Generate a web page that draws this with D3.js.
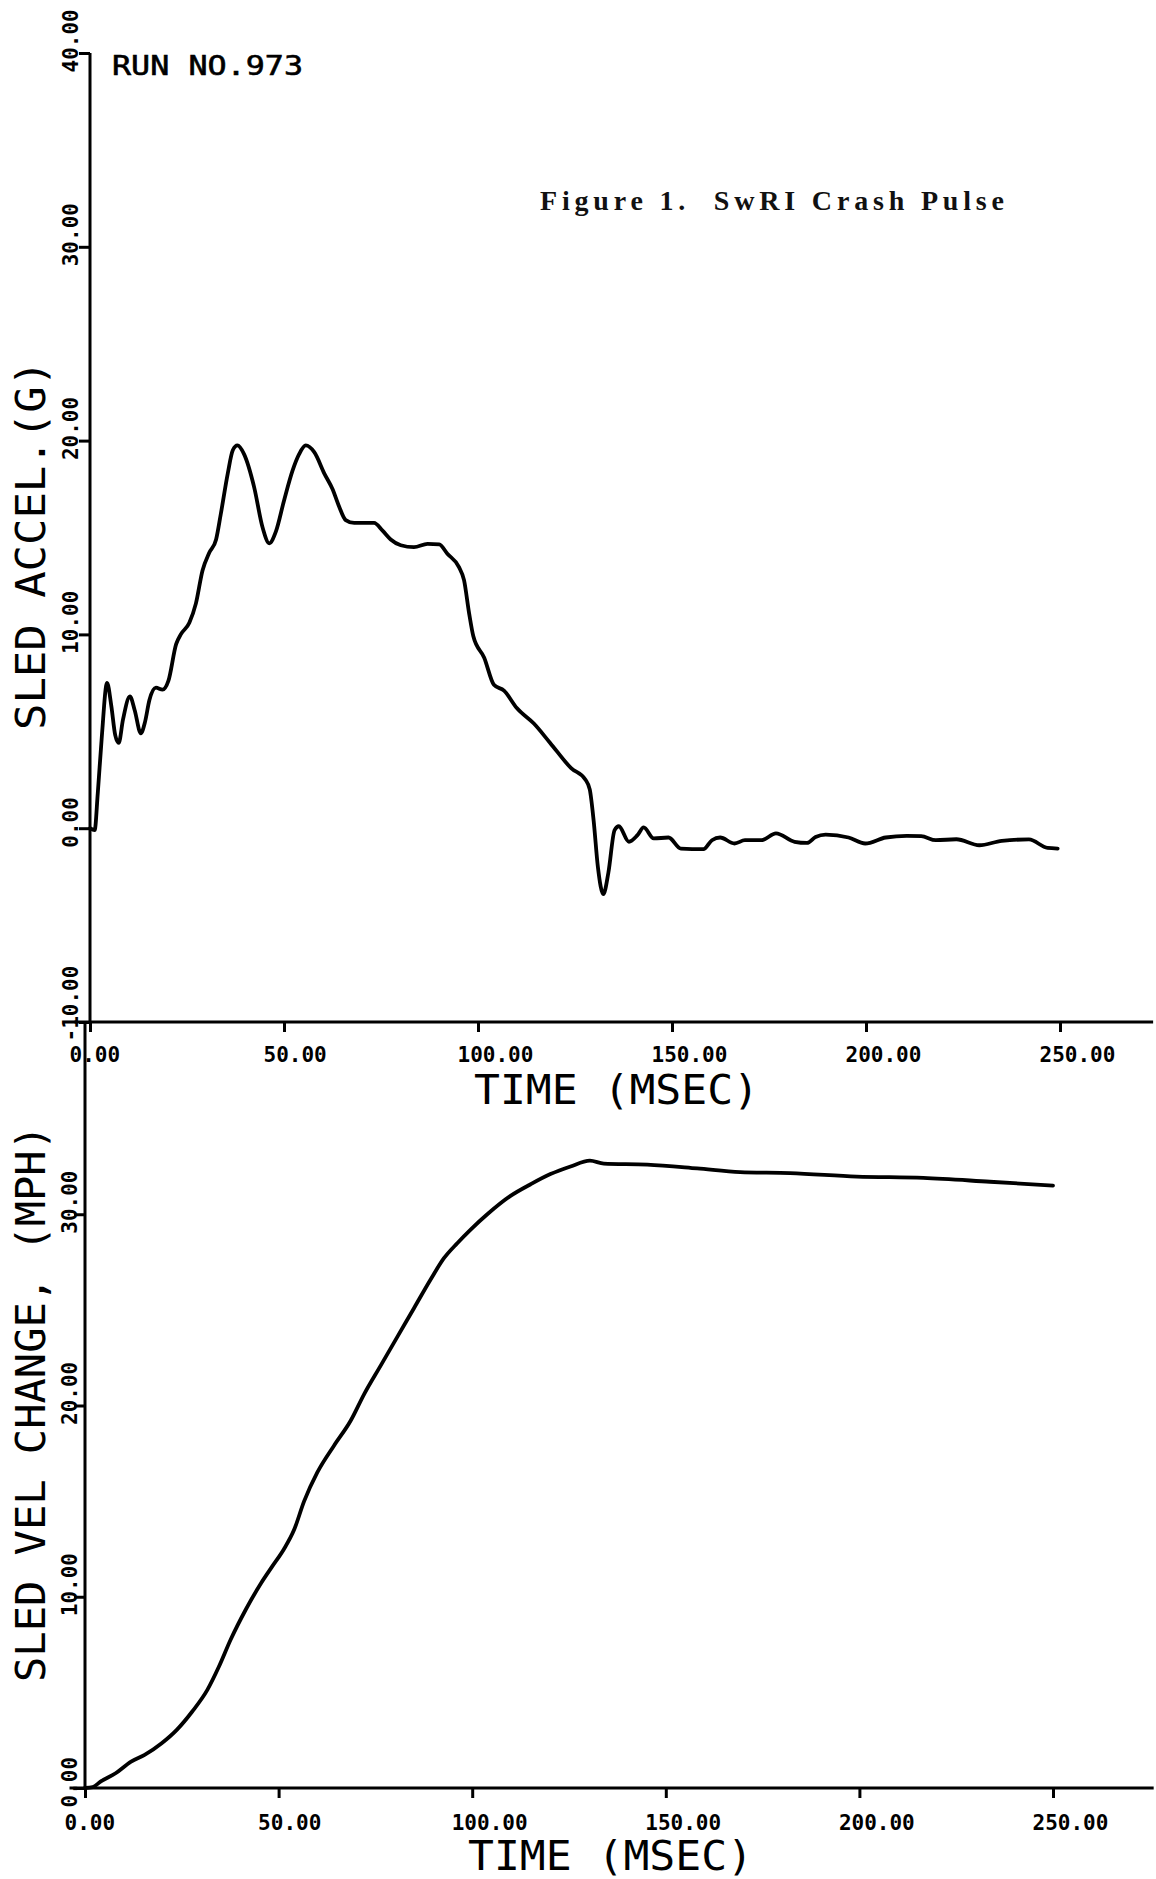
<!DOCTYPE html>
<html>
<head>
<meta charset="utf-8">
<script src="https://cdn.jsdelivr.net/npm/d3@7"></script>
<style>
  html, body { margin: 0; padding: 0; background: #fff; }
  svg { display: block; }
  .plot { font-family: "DejaVu Sans Mono", monospace; }
</style>
</head>
<body>
<script>
// ---------------- data ----------------
const xTickValues = [0, 50, 100, 150, 200, 250];
const accelTickValues = [-10, 0, 10, 20, 30, 40];
const velTickValues = [0, 10, 20, 30];

// Sled acceleration (G) vs time (msec)
const accelTime = [0,1.2,2,3,4.4,5.5,6.5,7.4,8.5,10.3,11.5,13.1,14.2,15.3,17,18.7,20.2,22.2,23.4,25.6,27.3,29,30.7,32.5,33.7,35.5,36.8,38,39.7,42.3,44.5,46.2,47.9,50,52.2,53.9,55.6,57.8,60.4,62.5,64.2,65.9,68.1,73.2,75.4,77.5,80.1,83.5,87,90,92.1,95.1,96.4,97.7,98.8,101.6,104.1,106.7,110,114.4,118.6,124,127.7,128.8,129.8,130.9,132.3,133.6,135.2,136.3,138.9,141.1,142.7,145.3,149.1,152.3,158.1,160.3,162.4,166.1,168.8,173.1,176.8,181.6,184.8,187,189.6,195.5,199.8,205.1,210.5,214.2,218,223.3,229.2,235,242,246.8,249.4];
const accelG = [0,-0.1,1.8,4.6,7.5,6.3,4.8,4.4,5.6,6.8,6.1,4.9,5.5,6.6,7.25,7.15,7.6,9.5,10.0,10.6,11.6,13.3,14.2,14.9,16.2,18.3,19.5,19.75,19.3,17.6,15.5,14.7,15.3,16.9,18.45,19.3,19.75,19.4,18.3,17.5,16.6,15.9,15.75,15.75,15.35,14.9,14.6,14.5,14.67,14.64,14.16,13.47,12.8,11.1,9.9,8.8,7.4,7.1,6.2,5.4,4.4,3.1,2.5,2.0,0.4,-2.0,-3.4,-2.3,-0.1,0.1,-0.7,-0.36,0.04,-0.53,-0.48,-1.05,-1.08,-0.62,-0.48,-0.79,-0.62,-0.62,-0.27,-0.7,-0.76,-0.45,-0.33,-0.48,-0.79,-0.48,-0.4,-0.41,-0.62,-0.57,-0.88,-0.65,-0.58,-1.02,-1.05];

// Sled velocity change (MPH) vs time (msec)
const velTime = [0,2,4,7.9,11.9,15.4,19.8,23.7,27.7,31.6,34.6,37.6,41.5,45.5,48.4,51.4,54,56.6,60,64.3,68.6,72.1,76.4,80.7,85,89.3,92.7,96.2,99.6,103.9,109.9,115.1,120.2,125.4,130.4,134,145.2,158.1,169.2,182.1,199.3,216.5,233.7,250];
const velMph = [0,0.05,0.33,0.77,1.38,1.73,2.34,3.04,4.0,5.13,6.35,7.75,9.32,10.72,11.6,12.5,13.5,15.0,16.5,17.9,19.2,20.6,22.1,23.6,25.1,26.6,27.7,28.5,29.2,30.0,30.96,31.57,32.1,32.5,32.8,32.65,32.6,32.4,32.2,32.15,31.97,31.9,31.7,31.5];

const runLabel = "RUN NO.973";
const figTitle = "Figure 1.  SwRI Crash Pulse";
const xTitle = "TIME (MSEC)";
const accelTitle = "SLED ACCEL.(G)";
const velTitle = "SLED VEL CHANGE, (MPH)";

// ---------------- drawing ----------------
const W = 1156, H = 1879;
const svg = d3.select("body").append("svg")
  .attr("width", W).attr("height", H)
  .attr("class", "plot");

const fmt = d => d.toFixed(2);
const AX_W = 3;

function drawPanel(cfg) {
  const { x, y, yTicks, yLabelX, xLabelDy, data } = cfg;
  const g = svg.append("g");

  // axis lines
  g.append("line")
    .attr("x1", x(0)).attr("x2", x(0))
    .attr("y1", y(cfg.yTop)).attr("y2", y(cfg.yBottom))
    .attr("stroke", "#000").attr("stroke-width", AX_W);
  g.append("line")
    .attr("x1", x(cfg.xLeft)).attr("x2", x(cfg.xRight))
    .attr("y1", y(cfg.yBottom)).attr("y2", y(cfg.yBottom))
    .attr("stroke", "#000").attr("stroke-width", AX_W);

  // y axis
  const ya = g.append("g")
    .attr("transform", `translate(${x(0)},0)`)
    .call(d3.axisLeft(y).tickValues(yTicks).tickSize(11).tickFormat(fmt));
  ya.select(".domain").remove();
  ya.selectAll(".tick line").attr("stroke", "#000").attr("stroke-width", AX_W);
  ya.selectAll(".tick text")
    .attr("x", -19).attr("y", yLabelX - x(0)).attr("dy", 0)
    .attr("transform", "rotate(-90)")
    .attr("text-anchor", "start")
    .attr("fill", "#000")
    .style("font-family", "'DejaVu Sans Mono', monospace")
    .style("font-size", "21px").style("font-weight", "bold");

  // x axis
  const xa = g.append("g")
    .attr("transform", `translate(0,${y(cfg.yBottom)})`)
    .call(d3.axisBottom(x).tickValues(xTickValues).tickSize(10).tickFormat(fmt));
  xa.select(".domain").remove();
  xa.selectAll(".tick line").attr("stroke", "#000").attr("stroke-width", AX_W);
  xa.selectAll(".tick text")
    .attr("x", -21).attr("y", xLabelDy).attr("dy", 0)
    .attr("text-anchor", "start")
    .attr("fill", "#000")
    .style("font-family", "'DejaVu Sans Mono', monospace")
    .style("font-size", "21px").style("font-weight", "bold");

  // data line
  const line = d3.line()
    .x(d => x(d[0])).y(d => y(d[1]))
    .curve(d3.curveMonotoneX);
  g.append("path")
    .datum(data)
    .attr("d", line)
    .attr("fill", "none")
    .attr("stroke", "#000")
    .attr("stroke-width", 3.8)
    .attr("stroke-linejoin", "round")
    .attr("stroke-linecap", "round");
  return g;
}

// top panel: acceleration
const xTop = d3.scaleLinear().domain([0, 250]).range([90, 1060]);
const yTop = d3.scaleLinear().domain([-10, 40]).range([1022, 53]);
drawPanel({
  x: xTop, y: yTop, yTicks: accelTickValues,
  yTop: 40, yBottom: -10, xLeft: -4, xRight: 274,
  yLabelX: 78, xLabelDy: 40,
  data: accelTime.map((t, i) => [t, accelG[i]])
});

// bottom panel: velocity change
const xBot = d3.scaleLinear().domain([0, 250]).range([85, 1053]);
const yBot = d3.scaleLinear().domain([0, 40]).range([1788, 1023]);
drawPanel({
  x: xBot, y: yBot, yTicks: velTickValues,
  yTop: 40, yBottom: 0, xLeft: -4, xRight: 276,
  yLabelX: 77, xLabelDy: 42,
  data: velTime.map((t, i) => [t, velMph[i]])
});

// titles
function bigText(txt, xPos, yPos, len, rotate) {
  return svg.append("text")
    .attr("x", 0).attr("y", 0)
    .attr("transform", `translate(${xPos},${yPos})` + (rotate ? " rotate(-90)" : ""))
    .attr("text-anchor", "start")
    .attr("textLength", len)
    .attr("lengthAdjust", "spacingAndGlyphs")
    .style("font-family", "'DejaVu Sans Mono', monospace")
    .style("font-size", "40px")
    .attr("fill", "#000")
    .text(txt);
}
bigText(xTitle, 474, 1104, 285, false);
bigText(xTitle, 468, 1870, 285, false);
bigText(accelTitle, 45, 730, 370, true);
bigText(velTitle, 45, 1682, 557, true);

svg.append("text")
  .attr("x", 112).attr("y", 75)
  .attr("textLength", 191).attr("lengthAdjust", "spacingAndGlyphs")
  .style("font-family", "'DejaVu Sans Mono', monospace")
  .style("font-size", "27px")
  .attr("fill", "#000").attr("stroke", "#000").attr("stroke-width", 0.6)
  .text(runLabel);

svg.append("text")
  .attr("x", 540).attr("y", 210)
  .attr("textLength", 464).attr("lengthAdjust", "spacing")
  .style("white-space", "pre")
  .style("font-family", "'Liberation Serif', serif")
  .style("font-size", "28px").style("font-weight", "bold")
  .attr("fill", "#111")
  .text(figTitle);
</script>
</body>
</html>
